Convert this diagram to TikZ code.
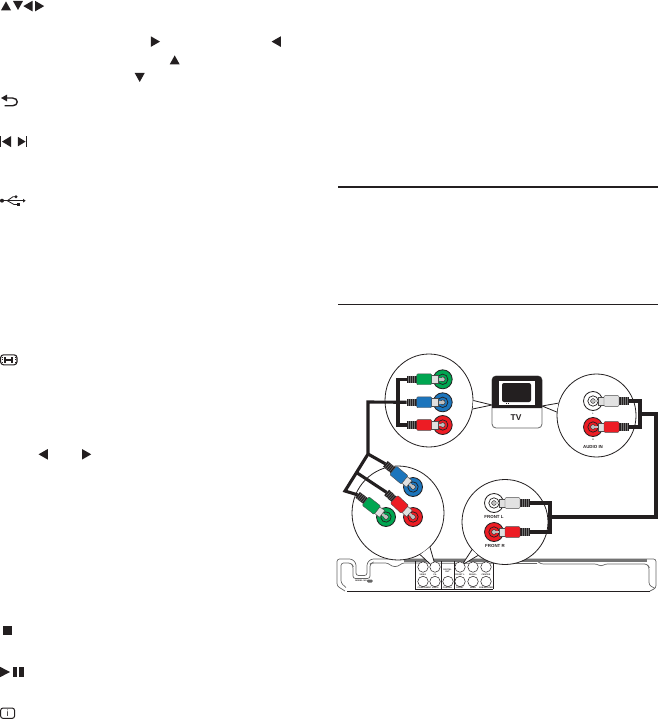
\documentclass[tikz,border=0pt]{standalone}
\usepackage{fontspec}
\setmainfont{Liberation Sans}
\usepackage{xcolor}
\usetikzlibrary{shapes.geometric, calc}

\begin{document}
\begin{tikzpicture}[
    x=1pt, y=-1pt,
    every node/.style={font=\bfseries, align=center},
    glyph/.style={fill=inkBlack},
    glyphline/.style={draw=inkBlack, line width=1.4pt},
    lens/.style={
      ellipse, draw=inkBlack, fill=white,
      inner sep=0pt, line width=0.8pt
    },
    lensline/.style={draw=inkBlack, line width=0.8pt},
    cable/.style={draw=inkBlack, line width=3.1pt},
    jack/.style={
      circle, minimum size=19pt, inner sep=0pt,
      draw=inkBlack, line width=0.8pt
    },
    port/.style={
      circle, minimum size=10.5pt, inner sep=0pt,
      draw=inkBlack, fill=white, line width=0.5pt
    },
    tiny label/.style={font=\bfseries\fontsize{2.1}{2.3}\selectfont, text=inkBlack},
    jack label/.style={font=\bfseries\fontsize{4.4}{5}\selectfont, text=inkBlack},
    bodyline/.style={draw=black!60, line width=0.7pt, rounded corners=2.5pt}
  ]
    \definecolor{inkBlack}{RGB}{35,31,32}
    \definecolor{plugGreen}{RGB}{0,166,81}
    \definecolor{plugBlue}{RGB}{28,117,188}
    \definecolor{plugRed}{RGB}{237,28,36}
    \definecolor{plugWhite}{RGB}{226,226,226}
    \definecolor{jackWhite}{RGB}{255,255,255}

    \useasboundingbox (0,0) rectangle (658,719);

    % arrow keys
    \foreach \x/\y in {1/1.4, 169.7/55.4} \fill[glyph] (\x,\y+9) -- (\x+10,\y+9) -- (\x+5,\y) -- cycle;
    \foreach \x/\y in {13/1, 134.7/73} \fill[glyph] (\x,\y) -- (\x+10,\y) -- (\x+5,\y+9) -- cycle;
    \foreach \x/\y in {23.3/0.8, 271.6/36.3, 38.6/449} \fill[glyph] (\x,\y+5.3) -- (\x+9.2,\y) -- (\x+9.2,\y+10.6) -- cycle;
    \foreach \x/\y in {35/0.8, 150.8/36.3, 82/449} \fill[glyph] (\x+9.2,\y+5.3) -- (\x,\y) -- (\x,\y+10.6) -- cycle;

    % back key
    \fill[glyph] (1,98) -- (7,94.6) -- (7,101.4) -- cycle;
    \draw[glyphline] (6,98) -- (12.5,98) .. controls (18.8,98) and (18.8,105.8) .. (12.5,105.8) -- (4.5,105.8);

    % skip keys
    \fill[glyph] (0,136) rectangle (1.1,147.3);
    \fill[glyph] (2,141.6) -- (11.2,136) -- (11.2,147.2) -- cycle;
    \fill[glyph] (26.1,136) rectangle (27.1,147.3);
    \fill[glyph] (25.6,141.6) -- (17.8,136.8) -- (17.8,146.4) -- cycle;

    % usb mark
    \fill[glyph] (2,200.7) circle (2);
    \draw[inkBlack, line width=0.8pt] (2,200.7) -- (24,200.7);
    \fill[glyph] (25.6,200.7) -- (23,198.8) -- (23,202.6) -- cycle;
    \draw[inkBlack, line width=0.8pt] (7.3,200.7) -- (13,196.7) -- (16,196.7);
    \draw[inkBlack, line width=0.8pt] (7.3,200.7) -- (14,204.5) -- (18,204.5);
    \fill[glyph] (16,196.7) circle (1.6);
    \fill[glyph] (17,203) rectangle (20,206);

    % wide screen key
    \draw[inkBlack, line width=1.1pt, rounded corners=3pt] (0.6,354.8) rectangle (17,364.8);
    \draw[inkBlack, line width=0.5pt, dotted] (2.6,356.8) -- (2.6,362.8);
    \draw[inkBlack, line width=0.5pt, dotted] (15,356.8) -- (15,362.8);
    \fill[glyph] (4.4,356.8) rectangle (6.2,362.8);
    \fill[glyph] (11.4,356.8) rectangle (13.2,362.8);
    \fill[glyph] (5,359) rectangle (12.6,360.6);

    % stop, play and info keys
    \fill[glyph] (3,626) rectangle (12,635);
    \fill[glyph] (0,666.8) -- (10,672) -- (0,677.2) -- cycle;
    \fill[glyph] (13.2,667) rectangle (17.4,677);
    \fill[glyph] (19.4,667) rectangle (24,677);
    \draw[inkBlack, line width=1pt, rounded corners=2.5pt] (0.6,708) rectangle (14.6,718.4);
    \node[font=\fontsize{9}{9}\selectfont, text=inkBlack, inner sep=0pt] (infoMark) at (7.6,713.2) {i};

    % page rules
    \draw[inkBlack, line width=2pt] (338,186.7) -- (658,186.7);
    \draw[inkBlack, line width=1pt] (338,304.5) -- (658,304.5);

    % player rear panel
    \draw[bodyline] (345,591) -- (337,586) -- (337,559) -- (352,559) -- (356,563) -- (356,575.5) -- (367,575.5) -- (367,563) -- (371,559) -- (656,559) -- (656,588) -- (650,591);
    \draw[bodyline] (346,587.5) -- (341,583) -- (341,563) -- (351,563) -- (353,566) -- (353,578.5) -- (370,578.5) -- (370,564) -- (372,563) -- (388,563) -- (392,566.5) -- (398,566.5) -- (402,563) -- (537,563.5);
    \draw[bodyline] (537,561) -- (541,564) -- (597,564) -- (601,566.5) -- (605,564) -- (647,564) -- (649,567) -- (649,585) -- (655,588.5);
    \draw[black!55, line width=2.4pt] (404,560.3) -- (647,560.3);
    \draw[inkBlack, line width=1.2pt] (347,591.3) -- (650,591.3);
    \foreach \x in {415,441,454,493} {
      \draw[inkBlack, line width=0.8pt] (\x,561) -- (\x,589);
    }
    \draw[inkBlack, line width=0.5pt] (415,589) -- (493,589);
    \node[tiny label, inner sep=0pt] (panelMark) at (361,581) {MODEL NO};
    \fill[black!60, rounded corners=1pt] (367,579.5) rectangle (372.5,582.5);

    % callout lenses
    \node[lens, minimum width=88pt, minimum height=93pt] (lensTop) at (429,400.5) {};
    \node[lens, minimum width=79pt, minimum height=83pt] (lensAudio) at (596.5,415.5) {};
    \node[lens, minimum width=92pt, minimum height=94pt] (lensRear) at (398,513) {};
    \node[lens, minimum width=86pt, minimum height=85pt] (lensFront) at (505,522) {};

    % tv
    \node[draw=black!60, fill=white, line width=0.8pt, rounded corners=4pt,
      minimum width=50pt, minimum height=52pt, inner sep=0pt] (tv) at (517,402) {};
    \fill[inkBlack] (492,408) [rounded corners=4pt] -- (492,376) -- (542,376) [sharp corners] -- (542,408) -- cycle;
    \fill[white] (499,381) rectangle (535,405);
    \fill[inkBlack, rounded corners=2pt] (502,383) rectangle (531,402);
    \fill[inkBlack] (506,403.2) rectangle (507,404.2);
    \fill[inkBlack] (508,403.2) rectangle (509,404.2);
    \node[font=\bfseries\fontsize{8.4}{9}\selectfont, text=inkBlack, inner sep=0pt] (tvLabel) at (516,417.5) {TV};

    % lens tails
    \coordinate (tipTop) at (492,405);
    \coordinate (tipAudio) at (542,406);
    \coordinate (tipRear) at (436.5,570);
    \coordinate (tipFront) at (462,565);
    \fill[white] (lensTop.0) -- (tipTop) -- (lensTop.-11) -- cycle;
    \draw[lensline] (lensTop.0) -- (tipTop) -- (lensTop.-11);
    \fill[white] (lensAudio.162) -- (tipAudio) -- (lensAudio.175) -- cycle;
    \draw[lensline] (lensAudio.162) -- (tipAudio) -- (lensAudio.175);
    \fill[white] (lensRear.-47) -- (tipRear) -- (lensRear.-62) -- cycle;
    \draw[lensline] (lensRear.-47) -- (tipRear) -- (lensRear.-62);
    \fill[white] (lensFront.220) -- (tipFront) -- (lensFront.231) -- cycle;
    \draw[lensline] (lensFront.220) -- (tipFront) -- (lensFront.231);

    % panel sockets
    \foreach \x/\rowa/\rowb in {423/VIDEO/Y, 435/Pb/Pr, 460/FRONT L/FRONT R, 473/REAR L/REAR R, 486/CENTER/SUBW} {
      \node[port] (portA\x) at (\x,567) {};
      \node[port] (portB\x) at (\x,581.5) {};
      \node[tiny label, inner sep=0pt] (textA\x) at (\x,574.3) {\rowa};
    }
    \node[port] (portB448) at (448,581.5) {};
    \node[tiny label, inner sep=0pt] (textDigital) at (447.5,571) {DIGITAL\\OUT};
    \node[tiny label, inner sep=0pt] (textVideo) at (428,588) {COMPONENT VIDEO};
    \node[tiny label, inner sep=0pt] (textCoax) at (447.5,588) {COAXIAL};
    \node[tiny label, inner sep=0pt] (textFront) at (460,588) {FRONT};
    \node[tiny label, inner sep=0pt] (textRear) at (473,588) {REAR};
    \node[tiny label, inner sep=0pt] (textSub) at (486,588) {SUBWOOFER};

    % cable joints
    \coordinate (barTop) at (398,402);
    \coordinate (turnTop) at (368,402);
    \coordinate (hubRear) at (368,454);
    \coordinate (elbowRear) at (345,491);
    \coordinate (forkRear) at ($(hubRear)!0.5!(elbowRear)$);
    \coordinate (barAudio) at (640,414);
    \coordinate (turnAudio) at (656,414);
    \coordinate (turnFront) at (656,517);
    \coordinate (barFront) at (550,517);

    % plugs and jacks
    \foreach \name/\x/\y/\ang/\bodycol/\jackcol in {
      plugTopG/442.7/379.3/0/plugGreen/plugGreen,
      plugTopB/442.7/402.3/0/plugBlue/plugBlue,
      plugTopR/442.7/425/0/plugRed/plugRed,
      plugRearB/413/487/-40/plugBlue/plugBlue,
      plugRearR/413/517/-43/plugRed/plugRed,
      plugRearG/386/517/-38/plugGreen/plugGreen,
      plugAudioL/593/401/180/plugWhite/jackWhite,
      plugAudioR/593/427/180/plugRed/plugRed,
      plugFrontL/494/503/180/plugWhite/jackWhite,
      plugFrontR/494/532/180/plugRed/plugRed} {
      \begin{scope}[shift={(\x,\y)}, rotate=\ang]
        \coordinate (\name) at (-36,0);
        \node[jack, fill=\jackcol] (socket\name) at (0,0) {};
        \draw[inkBlack, line width=0.7pt] (0,0) circle (5.2);
        \fill[black!25] (0,0) circle (2.4);
        \draw[inkBlack, line width=0.4pt] (0,0) circle (2.4);
        \fill[black!25] (-5,-1.2) rectangle (0,1.2);
        \fill[inkBlack] (-36,-3.6) rectangle (-26,3.6);
        \foreach \u in {-34,-32,-30,-28} {
          \draw[black!55, line width=0.5pt] (\u,-3.6) -- (\u,3.6);
        }
        \filldraw[draw=black!70, fill=black!12, line width=0.4pt] (-11.5,-4.2) rectangle (-5,4.2);
        \filldraw[draw=black!70, fill=\bodycol, line width=0.4pt, rounded corners=1pt] (-26,-5.4) rectangle (-11,5.4);
      \end{scope}
    }

    % cables
    \draw[cable] (plugTopG) -| (barTop) |- (plugTopR);
    \draw[cable] (plugTopB) -- (turnTop) -- (hubRear) -- (elbowRear) -- (plugRearG);
    \draw[cable] (hubRear) -- (plugRearB);
    \draw[cable] (forkRear) -- (plugRearR);
    \draw[cable] (plugAudioL) -| (barAudio) |- (plugAudioR);
    \draw[cable] (barAudio) -- (turnAudio) -- (turnFront) -- (barFront);
    \draw[cable] (plugFrontL) -| (barFront) |- (plugFrontR);

    % jack labels
    \node[jack label, inner sep=0pt] (textFrontL) at (494,516.5) {FRONT L};
    \node[jack label, inner sep=0pt] (textFrontR) at (495,546) {FRONT R};
    \node[jack label, inner sep=0pt] (textAudio) at (593,447) {AUDIO IN};
    \node[tiny label, inner sep=0pt] (textAudioL) at (593,414) {L};
    \node[tiny label, inner sep=0pt] (textAudioR) at (593,439.5) {R};
  \end{tikzpicture}
\end{document}
